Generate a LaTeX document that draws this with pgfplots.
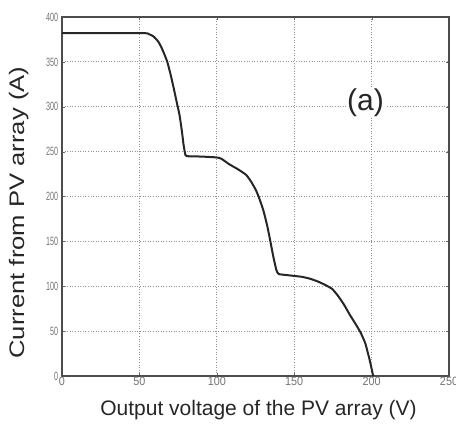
\documentclass[border=0pt]{standalone}
\usepackage{pgfplots}
\pgfplotsset{compat=1.18}
\usepackage{fontspec}
\setmainfont{Liberation Sans}
\begin{document}
\begin{tikzpicture}
\begin{axis}[
  scale only axis,
  width=387pt, height=359pt,
  xmin=0, xmax=250, ymin=0, ymax=400,
  xtick={0,50,...,250}, ytick={0,50,...,400},
  grid=major,
  grid style={gray!85, line width=1pt, dash pattern=on 1pt off 1.6pt},
  axis line style={black!70, line width=1.2pt},
  tick style={black!60},
  tick align=inside,
  major tick length=3pt,
  /pgf/number format/assume math mode=true,
  xticklabel style={font=\fontsize{12}{13}\selectfont, text=black!55, xscale=0.9, yshift=2pt},
  yticklabel style={font=\fontsize{12}{13}\selectfont, text=black!55, xscale=0.6, xshift=-3pt},
  xlabel={Output voltage of the PV array (V)},
  ylabel={Current from PV array (A)},
  label style={font=\fontsize{21}{23}\selectfont, text=black!85},
  xlabel style={at={(axis description cs:0.5,-0.095)}, anchor=center, xshift=3pt},
  ylabel style={at={(axis description cs:-0.112,0.455)}, anchor=center, xscale=1.22},
]
\addplot[black!85, line width=2pt, smooth, tension=0.3] coordinates {
(0,382) (52,382) (56,381) (59,378.5) (62,373) (64,367) (66,359) (68,350)
(70,337) (72,322) (74,306) (76,290) (77.5,272) (78.5,258) (79.5,248)
(80.5,245) (90,244.5) (100,243.5) (103,242) (108,236) (114,230) (119,224)
(122,217) (125,208) (127,200) (130,185) (132.5,168) (134.5,151) (136.5,133)
(138.5,118) (140,113.6) (145,112.5) (150,111.5) (155,110.5) (160,108.5)
(165,105.5) (170,101.5) (174.5,97) (178,90) (182,80) (186,68) (190,57)
(193,48) (196,36) (199,16) (201,0)
};
\node[font=\fontsize{30}{32}\selectfont, text=black!85, fill=white, inner sep=1pt] at (axis cs:196,304) {(a)};
\end{axis}
\pgfresetboundingbox
\path ([shift={(-62pt,-56pt)}]current axis.south west) rectangle ([shift={(7pt,17pt)}]current axis.north east);
\end{tikzpicture}
\end{document}
